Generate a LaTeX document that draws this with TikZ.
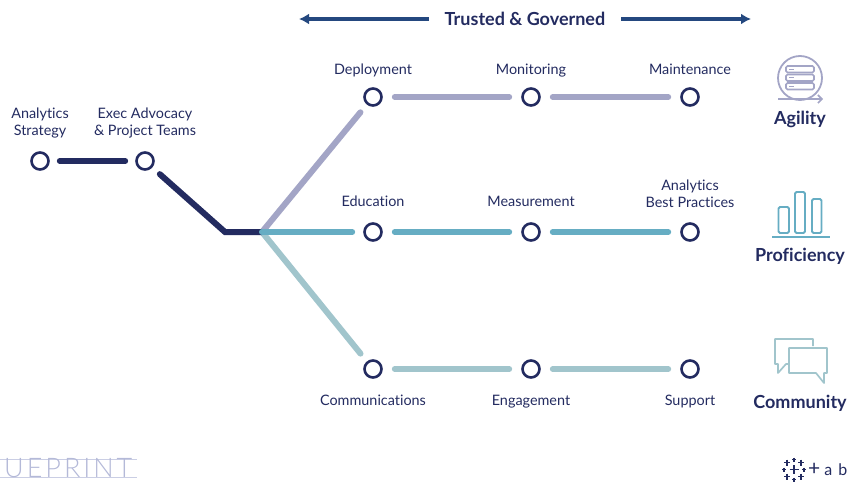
\documentclass[tikz,border=0pt]{standalone}
\usepackage{fontspec}
\setmainfont{Lato}[Ligatures={TeX,NoCommon}]
\newfontfamily\thinfont{Lato Light}[LetterSpace=11]
\usetikzlibrary{arrows.meta}

\definecolor{navy}{HTML}{232B60}
\definecolor{arrowblue}{HTML}{24487F}
\definecolor{agile}{HTML}{A3A5C6}
\definecolor{prof}{HTML}{66ADC3}
\definecolor{comm}{HTML}{A1C5CC}
\definecolor{ghost}{HTML}{B4B9D8}

\tikzset{
    station/.style={draw=navy, circle, line width=2.6pt, minimum size=17pt, inner sep=0pt, fill=white},
    caption/.style={text=navy, font=\fontsize{14.4}{16.5}\selectfont, align=center, inner sep=0pt},
    oneline/.style={caption, text height=10.5pt, text depth=3.5pt},
    heading/.style={text=navy, font=\fontsize{18}{20}\selectfont\bfseries, inner sep=0pt, text height=13pt, text depth=4pt},
    track/.style={line width=6pt, line cap=round},
    tabplus/.style={draw=navy, line width=1.2pt}
}

\begin{document}
\begin{tikzpicture}[x=1pt, y=-1pt]

\useasboundingbox (0,0) rectangle (848,482);

% Top arrows
\node[heading] (title) at (525,21) {Trusted \& Governed};
\coordinate (arrowleft) at (299,19);
\coordinate (arrowright) at (751,19);
\coordinate (titleleft) at (429,19);
\coordinate (titleright) at (621,19);
\draw[arrowblue, line width=3.6pt, -{Latex[length=10pt,width=11pt]}] (titleleft) -- (arrowleft);
\draw[arrowblue, line width=3.6pt, -{Latex[length=10pt,width=11pt]}] (titleright) -- (arrowright);

% Stations
\node[station] (strategy) at (40,161) {};
\node[station] (exec) at (145,161) {};
\coordinate (bend) at (225,232);
\coordinate (hub) at (262,232);

\node[station] (deploy) at (373,97) {};
\node[station] (monitor) at (531,97) {};
\node[station] (maintain) at (690,97) {};

\node[station] (educate) at (373,232) {};
\node[station] (measure) at (531,232) {};
\node[station] (practice) at (690,232) {};

\node[station] (communicate) at (373,369) {};
\node[station] (engage) at (531,369) {};
\node[station] (support) at (690,369) {};

% Tracks
\draw[track, agile, shorten >=10pt] (hub) -- (deploy);
\draw[track, comm, shorten >=10pt] (hub) -- (communicate);
\draw[track, navy, line join=miter, shorten <=10pt] (exec) -- (bend) -- (hub);
\draw[track, prof, shorten >=11pt] (hub) -- (educate);
\draw[track, navy, shorten <=10pt, shorten >=10pt] (strategy) -- (exec);

\foreach \from/\to/\col in {deploy/monitor/agile, monitor/maintain/agile,
    educate/measure/prof, measure/practice/prof,
    communicate/engage/comm, engage/support/comm}
    \draw[track, \col, shorten <=12pt, shorten >=12pt] (\from) -- (\to);

% Labels
\node[caption] (strategytext) at (40,123) {Analytics\\Strategy};
\node[caption] (exectext) at (145,123) {Exec Advocacy\\\& Project Teams};
\node[oneline] (deploytext) at (373,70.5) {Deployment};
\node[oneline] (monitortext) at (531,70.5) {Monitoring};
\node[oneline] (maintaintext) at (690,70.5) {Maintenance};
\node[oneline] (educatetext) at (373,203) {Education};
\node[oneline] (measuretext) at (531,203) {Measurement};
\node[caption] (practicetext) at (690,194) {Analytics\\Best Practices};
\node[oneline] (communicatetext) at (373,402) {Communications};
\node[oneline] (engagetext) at (531,402) {Engagement};
\node[oneline] (supporttext) at (690,402) {Support};

\node[heading] (agility) at (800,120) {Agility};
\node[heading] (proficiency) at (800,257) {Proficiency};
\node[heading] (community) at (800,404) {Community};

% Agility icon
\draw[agile, line width=1.8pt] (800,78) circle (22);
\draw[agile, line width=1.6pt, -{Straight Barb[length=4pt,width=8pt]}] (778,99) -- (823,99);
\foreach \y in {66,74.5,83} {
    \draw[agile, line width=1.6pt, fill=white, rounded corners=1.5pt] (786,\y) rectangle (814,\y+6.5);
    \draw[agile, line width=1.2pt] (789,\y+3.2) -- (794,\y+3.2);
}

% Proficiency icon
\draw[prof, line width=1.8pt, rounded corners=1.5pt] (778.5,207) rectangle (789,233);
\draw[prof, line width=1.8pt, rounded corners=1.5pt] (795,192) rectangle (805,233);
\draw[prof, line width=1.8pt, rounded corners=1.5pt] (812,199) rectangle (821.5,233);
\draw[prof, line width=1.8pt] (772,237) -- (830,237);

% Community icon
\draw[comm, line width=1.7pt, line join=round] (813,346) -- (813,339) -- (775,339) -- (775,364) -- (778,364) -- (778,373) -- (786,364) -- (789,364);
\draw[comm, line width=1.7pt, line join=round] (789,348) -- (827,348) -- (827,373) -- (824,373) -- (824,383) -- (816,373) -- (789,373) -- cycle;

% Blueprint mark
\draw[ghost!70, line width=0.8pt] (0,459) -- (137,459);
\draw[ghost!70, line width=0.8pt] (0,477) -- (137,477);
\node[text=ghost, inner sep=0pt, anchor=west, font=\fontsize{27}{28}\thinfont] (blueprint) at (4,468) {UEPRINT};

% Tableau mark
\foreach \cx/\cy/\s in {794/469.5/4.5, 794/459.5/2, 794/479.5/2, 784/469.5/2, 804/469.5/2,
    787/462.5/3, 801/462.5/3, 787/476.5/3, 801/476.5/3} {
    \draw[tabplus] (\cx-\s,\cy) -- (\cx+\s,\cy);
    \draw[tabplus] (\cx,\cy-\s) -- (\cx,\cy+\s);
}
\node[text=navy, inner sep=0pt, anchor=east, font=\fontsize{16}{18}\selectfont] (tabtext) at (847.5,469.5) {{\fontsize{21}{18}\selectfont +}\hspace{4pt}a\hspace{6pt}b};

\end{tikzpicture}
\end{document}
